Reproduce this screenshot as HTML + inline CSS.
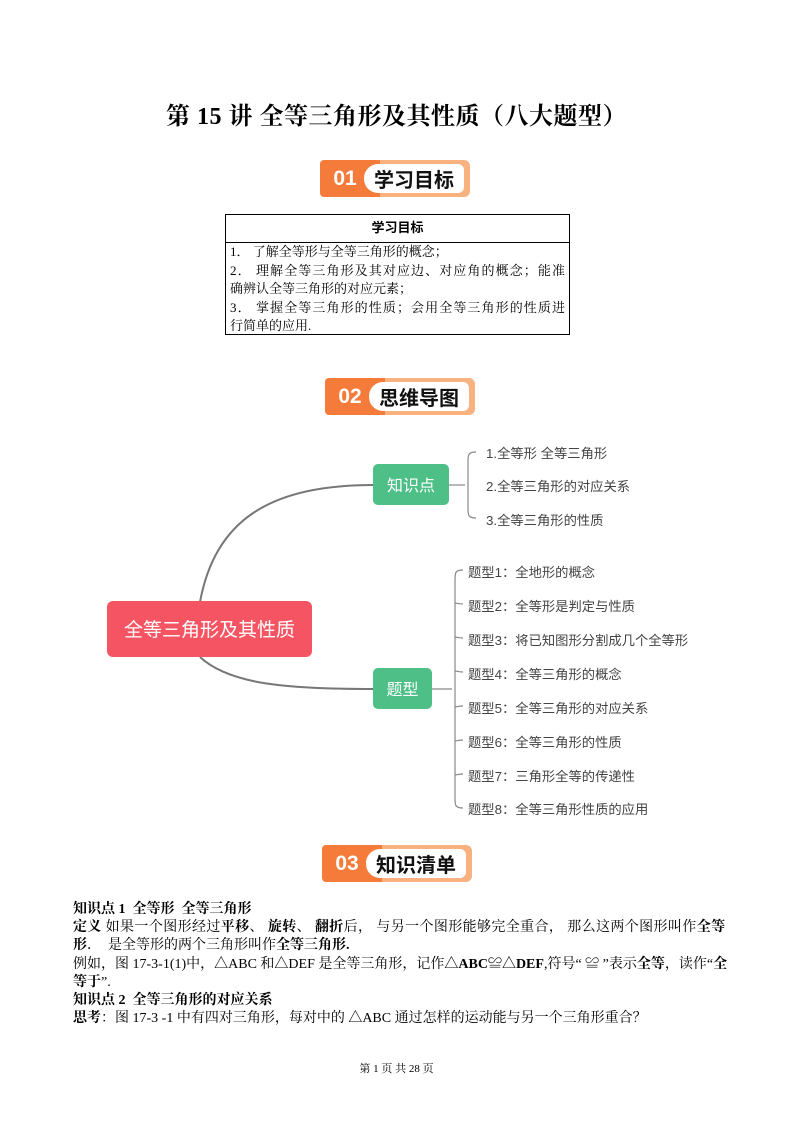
<!DOCTYPE html>
<html><head><meta charset="utf-8"><style>
body{margin:0;width:793px;height:1122px;position:relative;background:#fff;font-family:"Liberation Serif","Noto Serif CJK SC",serif;color:#000;overflow:hidden}
.a{position:absolute;white-space:nowrap}
.badge{position:absolute;width:150px;height:37px}
.badge .o{position:absolute;left:0;top:0;width:60px;height:37px;background:#f47b3a;border-radius:4px 0 0 4px}
.badge .n{position:absolute;left:4px;top:6px;width:42px;text-align:center;color:#fff;font:bold 21px "Liberation Sans",sans-serif;line-height:26px}
.badge .b{position:absolute;left:40px;top:0;width:110px;height:37px;background:#f8b27f;border-radius:0 6px 6px 0}
.badge .w{position:absolute;left:44px;top:4px;width:100px;height:29px;background:#fff;border-radius:14px 6px 6px 14px;font:bold 20px "Noto Sans CJK SC",sans-serif;line-height:29px;text-align:center;color:#111}
.s{font-family:"Liberation Sans","Noto Sans CJK SC",sans-serif;color:#444;font-size:13.3px}
.p{font-size:14px;line-height:18.2px}
.j{text-align:justify;text-align-last:justify}
b{font-weight:bold}
</style></head><body>
<div class="a" style="left:0;width:793px;top:96px;text-align:center;font:bold 24px 'Liberation Serif','Noto Serif CJK SC',serif;letter-spacing:0.5px">第 15 讲 全等三角形及其性质（八大题型）</div>

<div class="badge" style="left:320px;top:160px"><div class="b"></div><div class="o"></div><div class="n">01</div><div class="w">学习目标</div></div>
<div class="badge" style="left:325px;top:378px"><div class="b"></div><div class="o"></div><div class="n">02</div><div class="w">思维导图</div></div>
<div class="badge" style="left:322px;top:845px"><div class="b"></div><div class="o"></div><div class="n">03</div><div class="w">知识清单</div></div>

<div class="a" style="left:225px;top:214px;width:343px;height:119px;border:1px solid #000"></div>
<div class="a" style="left:225px;top:242px;width:344px;border-top:1px solid #000"></div>
<div class="a" style="left:225px;top:217px;width:345px;text-align:center;font:bold 13px 'Noto Sans CJK SC',sans-serif">学习目标</div>
<div class="a" style="left:230px;top:243px;font-size:13px;line-height:18.5px;width:335px">
<div>1．&nbsp;了解全等形与全等三角形的概念；</div>
<div class="j">2．&nbsp;理解全等三角形及其对应边、对应角的概念；能准</div>
<div>确辨认全等三角形的对应元素；</div>
<div class="j">3．&nbsp;掌握全等三角形的性质；会用全等三角形的性质进</div>
<div>行简单的应用.</div>
</div>

<svg class="a" style="left:0;top:0" width="793" height="1122">
<g fill="none" stroke="#777" stroke-width="2">
<path d="M200 602 C215 520 270 485 373 485"/>
<path d="M200 657 C230 685 290 689 373 689"/>
</g>
<g fill="none" stroke="#888" stroke-width="1.2">
<path d="M449 485 H465"/>
<path d="M476 452 C468 452 468 455 468 462 V508 C468 515 468 518 476 518"/>
<path d="M432 689 H452"/>
<path d="M463 570 C455 570 455 573 455 580 V798 C455 805 455 808 463 808"/>
<path d="M455 604 C455 602 457 604 463 604 M455 638 C455 636 457 638 463 638 M455 672 C455 670 457 672 463 672 M455 706 C455 708 457 706 463 706 M455 740 C455 742 457 740 463 740 M455 774 C455 776 457 774 463 774"/>
</g>
<rect x="107" y="601" width="205" height="56" rx="6" fill="#f55562"/>
<rect x="373" y="464" width="76" height="41" rx="5" fill="#4dbf87"/>
<rect x="373" y="668" width="59" height="41" rx="5" fill="#4dbf87"/>
</svg>
<div class="a" style="left:107px;top:616px;width:205px;text-align:center;color:#fff;font:19px 'Noto Sans CJK SC',sans-serif;line-height:26px">全等三角形及其性质</div>
<div class="a" style="left:373px;top:472px;width:76px;text-align:center;color:#fff;font:16px 'Noto Sans CJK SC',sans-serif;line-height:24px">知识点</div>
<div class="a" style="left:373px;top:676px;width:59px;text-align:center;color:#fff;font:16px 'Noto Sans CJK SC',sans-serif;line-height:24px">题型</div>

<div class="a s" style="left:486px;top:443px">1.全等形 全等三角形</div>
<div class="a s" style="left:486px;top:476px">2.全等三角形的对应关系</div>
<div class="a s" style="left:486px;top:510px">3.全等三角形的性质</div>
<div class="a s" style="left:468px;top:562px">题型1：全地形的概念</div>
<div class="a s" style="left:468px;top:596px">题型2：全等形是判定与性质</div>
<div class="a s" style="left:468px;top:630px">题型3：将已知图形分割成几个全等形</div>
<div class="a s" style="left:468px;top:664px">题型4：全等三角形的概念</div>
<div class="a s" style="left:468px;top:698px">题型5：全等三角形的对应关系</div>
<div class="a s" style="left:468px;top:732px">题型6：全等三角形的性质</div>
<div class="a s" style="left:468px;top:766px">题型7：三角形全等的传递性</div>
<div class="a s" style="left:468px;top:799px">题型8：全等三角形性质的应用</div>

<div class="a p" style="left:73px;top:901px;width:652px">
<div><b>知识点 1&nbsp; 全等形&nbsp; 全等三角形</b></div>
<div class="j"><b>定义</b> 如果一个图形经过<b>平移</b>、 <b>旋转</b>、 <b>翻折</b>后， 与另一个图形能够完全重合， 那么这两个图形叫作<b>全等</b></div>
<div><b>形</b>．&nbsp; 是全等形的两个三角形叫作<b>全等三角形.</b></div>
<div class="j">例如，图 17-3-1(1)中，△ABC 和△DEF 是全等三角形，记作<b>△ABC≌△DEF</b>,符号“ ≌ ”表示<b>全等</b>，读作“<b>全</b></div>
<div><b>等于</b>”.</div>
<div><b>知识点 2&nbsp; 全等三角形的对应关系</b></div>
<div><b>思考</b>：图 17-3 -1 中有四对三角形，每对中的 △ABC 通过怎样的运动能与另一个三角形重合？</div>
</div>
<div class="a" style="left:0;width:793px;top:1060px;text-align:center;font-size:11px">第 1 页 共 28 页</div>
</body></html>
